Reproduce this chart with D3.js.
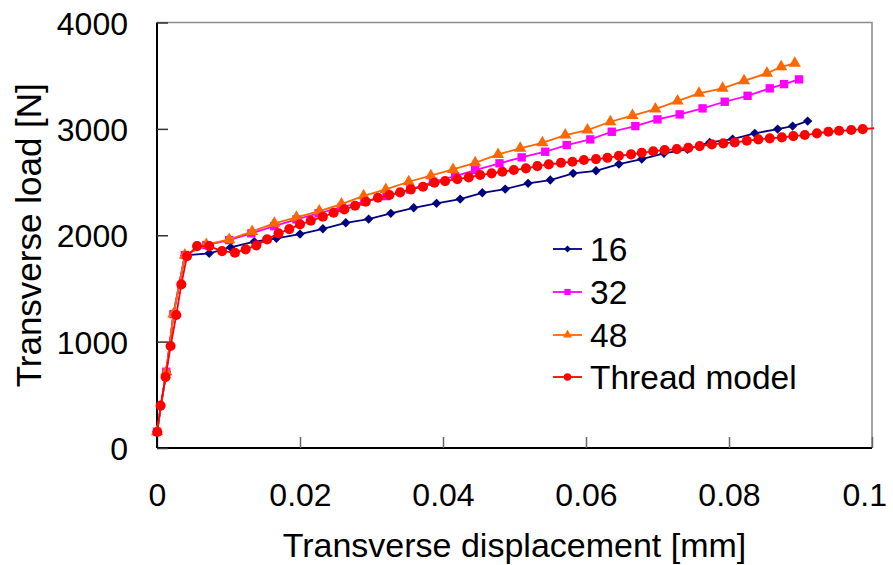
<!DOCTYPE html>
<html><head><meta charset="utf-8">
<script src="https://cdn.jsdelivr.net/npm/d3@7"></script>
<style>
html,body{margin:0;padding:0;background:#fff;}
svg{display:block;font-family:"Liberation Sans",Arial,sans-serif;}
</style></head>
<body>
<svg id="chart" width="893" height="565"></svg>
<script>
// ---- data ----
const xTicks = [0, 0.02, 0.04, 0.06, 0.08, 0.1];
const xTickLabels = ["0", "0.02", "0.04", "0.06", "0.08", "0.1"];
const yTicks = [0, 1000, 2000, 3000, 4000];
const yTickLabels = ["0", "1000", "2000", "3000", "4000"];
const seriesNames = ["16", "32", "48", "Thread model"];

const s16x = [0, 0.0013, 0.0023, 0.0039, 0.0073, 0.0103, 0.0136, 0.0167, 0.0200, 0.0232, 0.0264, 0.0296, 0.0327, 0.0359, 0.0391, 0.0424, 0.0455, 0.0487, 0.0519, 0.0550, 0.0582, 0.0614, 0.0646, 0.0678, 0.0709, 0.0742, 0.0773, 0.0805, 0.0836, 0.0868, 0.0889, 0.0910];
const s16y = [153, 717, 1259, 1810, 1830, 1886, 1939, 1971, 2011, 2061, 2117, 2152, 2206, 2258, 2300, 2340, 2399, 2434, 2488, 2519, 2582, 2606, 2669, 2716, 2770, 2807, 2873, 2904, 2958, 2998, 3026, 3073];

const s32x = [0, 0.0013, 0.0023, 0.0039, 0.0069, 0.0101, 0.0132, 0.0164, 0.0195, 0.0226, 0.0258, 0.0290, 0.0321, 0.0354, 0.0386, 0.0417, 0.0445, 0.0479, 0.0510, 0.0543, 0.0573, 0.0606, 0.0636, 0.0669, 0.0700, 0.0731, 0.0763, 0.0794, 0.0826, 0.0857, 0.0877, 0.0898];
const s32y = [153, 717, 1259, 1814, 1908, 1955, 2018, 2085, 2149, 2206, 2262, 2315, 2368, 2430, 2503, 2555, 2613, 2676, 2732, 2785, 2848, 2901, 2973, 3026, 3089, 3136, 3193, 3255, 3311, 3381, 3421, 3465];

const s48x = [0, 0.0013, 0.0023, 0.0039, 0.0069, 0.0101, 0.0133, 0.0164, 0.0195, 0.0227, 0.0258, 0.0289, 0.0320, 0.0352, 0.0383, 0.0414, 0.0445, 0.0477, 0.0508, 0.0539, 0.0571, 0.0602, 0.0634, 0.0665, 0.0697, 0.0728, 0.0758, 0.0791, 0.0821, 0.0853, 0.0873, 0.0892];
const s48y = [153, 717, 1259, 1814, 1912, 1961, 2035, 2112, 2168, 2227, 2293, 2371, 2431, 2503, 2560, 2619, 2681, 2760, 2817, 2869, 2942, 2989, 3067, 3125, 3186, 3261, 3334, 3381, 3452, 3522, 3584, 3616];

const sThx = [0.00005, 0.0005, 0.0012, 0.0019, 0.0027, 0.0034, 0.0042, 0.0056, 0.0073, 0.0091, 0.0109, 0.0124, 0.0139, 0.0154, 0.0170, 0.0185, 0.0200, 0.0215, 0.0232, 0.0247, 0.0262, 0.0277, 0.0292, 0.0309, 0.0325, 0.0340, 0.0355, 0.0372, 0.0388, 0.0403, 0.0420, 0.0436, 0.0452, 0.0468, 0.0483, 0.0499, 0.0516, 0.0532, 0.0548, 0.0565, 0.0581, 0.0597, 0.0614, 0.0630, 0.0646, 0.0663, 0.0678, 0.0694, 0.0710, 0.0727, 0.0743, 0.0759, 0.0776, 0.0792, 0.0808, 0.0825, 0.0841, 0.0857, 0.0874, 0.0890, 0.0906, 0.0923, 0.0939, 0.0954, 0.0971, 0.0987, 0.1003];
const sThy = [150, 398, 667, 959, 1250, 1538, 1804, 1898, 1898, 1851, 1836, 1867, 1905, 1961, 2018, 2058, 2102, 2136, 2174, 2211, 2243, 2277, 2315, 2352, 2378, 2403, 2431, 2456, 2494, 2509, 2528, 2544, 2566, 2582, 2597, 2613, 2629, 2650, 2666, 2681, 2691, 2707, 2716, 2728, 2747, 2760, 2775, 2790, 2801, 2810, 2822, 2838, 2854, 2864, 2873, 2888, 2901, 2911, 2920, 2932, 2942, 2958, 2973, 2982, 2989, 2998, 3006];

// ---- layout ----
const W = 893, H = 565;
const svg = d3.select("#chart");
const x = d3.scaleLinear().domain([0, 0.1]).range([157, 872]);
const y = d3.scaleLinear().domain([0, 4000]).range([448, 22.5]);

const series = [
  {name: seriesNames[0], xs: s16x, ys: s16y, color: "#000080", shape: "diamond"},
  {name: seriesNames[1], xs: s32x, ys: s32y, color: "#FF00FF", shape: "square"},
  {name: seriesNames[2], xs: s48x, ys: s48y, color: "#FF6600", shape: "triangle"},
  {name: seriesNames[3], xs: sThx, ys: sThy, color: "#FF0000", shape: "circle"}
];

// plot frame (gray top/right)
svg.append("path")
  .attr("d", `M${x(0)},${y(4000)}H${x(0.1)}V${y(0)}`)
  .attr("fill", "none").attr("stroke", "#8c8c8c").attr("stroke-width", 1.6);

// axes
const gx = svg.append("g").attr("transform", `translate(0,${y(0)})`)
  .call(d3.axisBottom(x).tickValues(xTicks).tickSize(-11).tickPadding(0)
    .tickFormat((d, i) => xTickLabels[i]));
const gy = svg.append("g").attr("transform", `translate(${x(0)},0)`)
  .call(d3.axisLeft(y).tickValues(yTicks).tickSize(-11).tickPadding(0)
    .tickFormat((d, i) => yTickLabels[i]));

[gx, gy].forEach(g => {
  g.select(".domain").attr("stroke", "#000").attr("stroke-width", 2);
  g.selectAll(".tick line").attr("stroke", "#333").attr("stroke-width", 1.5);
  g.selectAll("text").attr("font-family", "Liberation Sans, Arial, sans-serif")
    .attr("font-size", 32).attr("fill", "#000");
});
gx.selectAll(".tick line").attr("stroke", "#666");
gx.select(".domain").attr("d", `M${x(0)},0H${x(0.1)}`);
gy.select(".domain").attr("d", `M0,${y(0)}V${y(4000)}`);
gx.selectAll(".tick text").attr("dy", null).attr("y", 58);
gx.selectAll(".tick text").each(function() {
  const b = this.getBBox();
  const tr = this.parentNode.transform.baseVal.consolidate().matrix.e;
  const right = tr + b.x + b.width;
  if (right > W - 6) d3.select(this).attr("x", (W - 6) - right);
});
gy.selectAll(".tick text").attr("x", -29).attr("dy", "0.36em");

// titles
svg.append("text").attr("x", (x(0) + x(0.1)) / 2).attr("y", 557)
  .attr("text-anchor", "middle").attr("font-size", 34)
  .text("Transverse displacement [mm]");
svg.append("text").attr("transform", `translate(41,${(y(0) + y(4000)) / 2}) rotate(-90)`)
  .attr("text-anchor", "middle").attr("font-size", 35)
  .text("Transverse load [N]");

// marker generator
function markerPath(shape, scale) {
  const k = scale || 1;
  if (shape === "diamond") return d3.symbol().type(d3.symbolSquare).size(44 * k)();
  if (shape === "square") return d3.symbol().type(d3.symbolSquare).size(70 * k)();
  if (shape === "triangle") return d3.symbol().type(d3.symbolTriangle).size(64 * k)();
  return d3.symbol().type(d3.symbolCircle).size(80 * k)();
}

const line = d3.line().x(d => x(d[0])).y(d => y(d[1]));
series.forEach(s => {
  const pts = s.xs.map((v, i) => [v, s.ys[i]]);
  const g = svg.append("g");
  g.append("path").datum(pts).attr("d", line)
    .attr("fill", "none").attr("stroke", s.color).attr("stroke-width", 1.8);
  g.selectAll("path.m").data(pts.filter(p => p[0] <= 0.1)).join("path").attr("class", "m")
    .attr("d", markerPath(s.shape))
    .attr("transform", d => `translate(${x(d[0])},${y(d[1])})` + (s.shape === "diamond" ? " rotate(45)" : ""))
    .attr("fill", s.color);
});

// legend
const legendY = [249, 292, 335, 377];
const lg = svg.append("g");
series.forEach((s, i) => {
  const g = lg.append("g").attr("transform", `translate(553,${legendY[i]})`);
  g.append("line").attr("x1", 0).attr("x2", 29).attr("stroke", s.color).attr("stroke-width", 1.8);
  g.append("path").attr("d", markerPath(s.shape, 0.55))
    .attr("transform", `translate(14.5,0)` + (s.shape === "diamond" ? " rotate(45)" : ""))
    .attr("fill", s.color);
  g.append("text").attr("x", 37).attr("dy", "0.36em").attr("font-size", 33.5).text(s.name);
});
</script>
</body></html>
